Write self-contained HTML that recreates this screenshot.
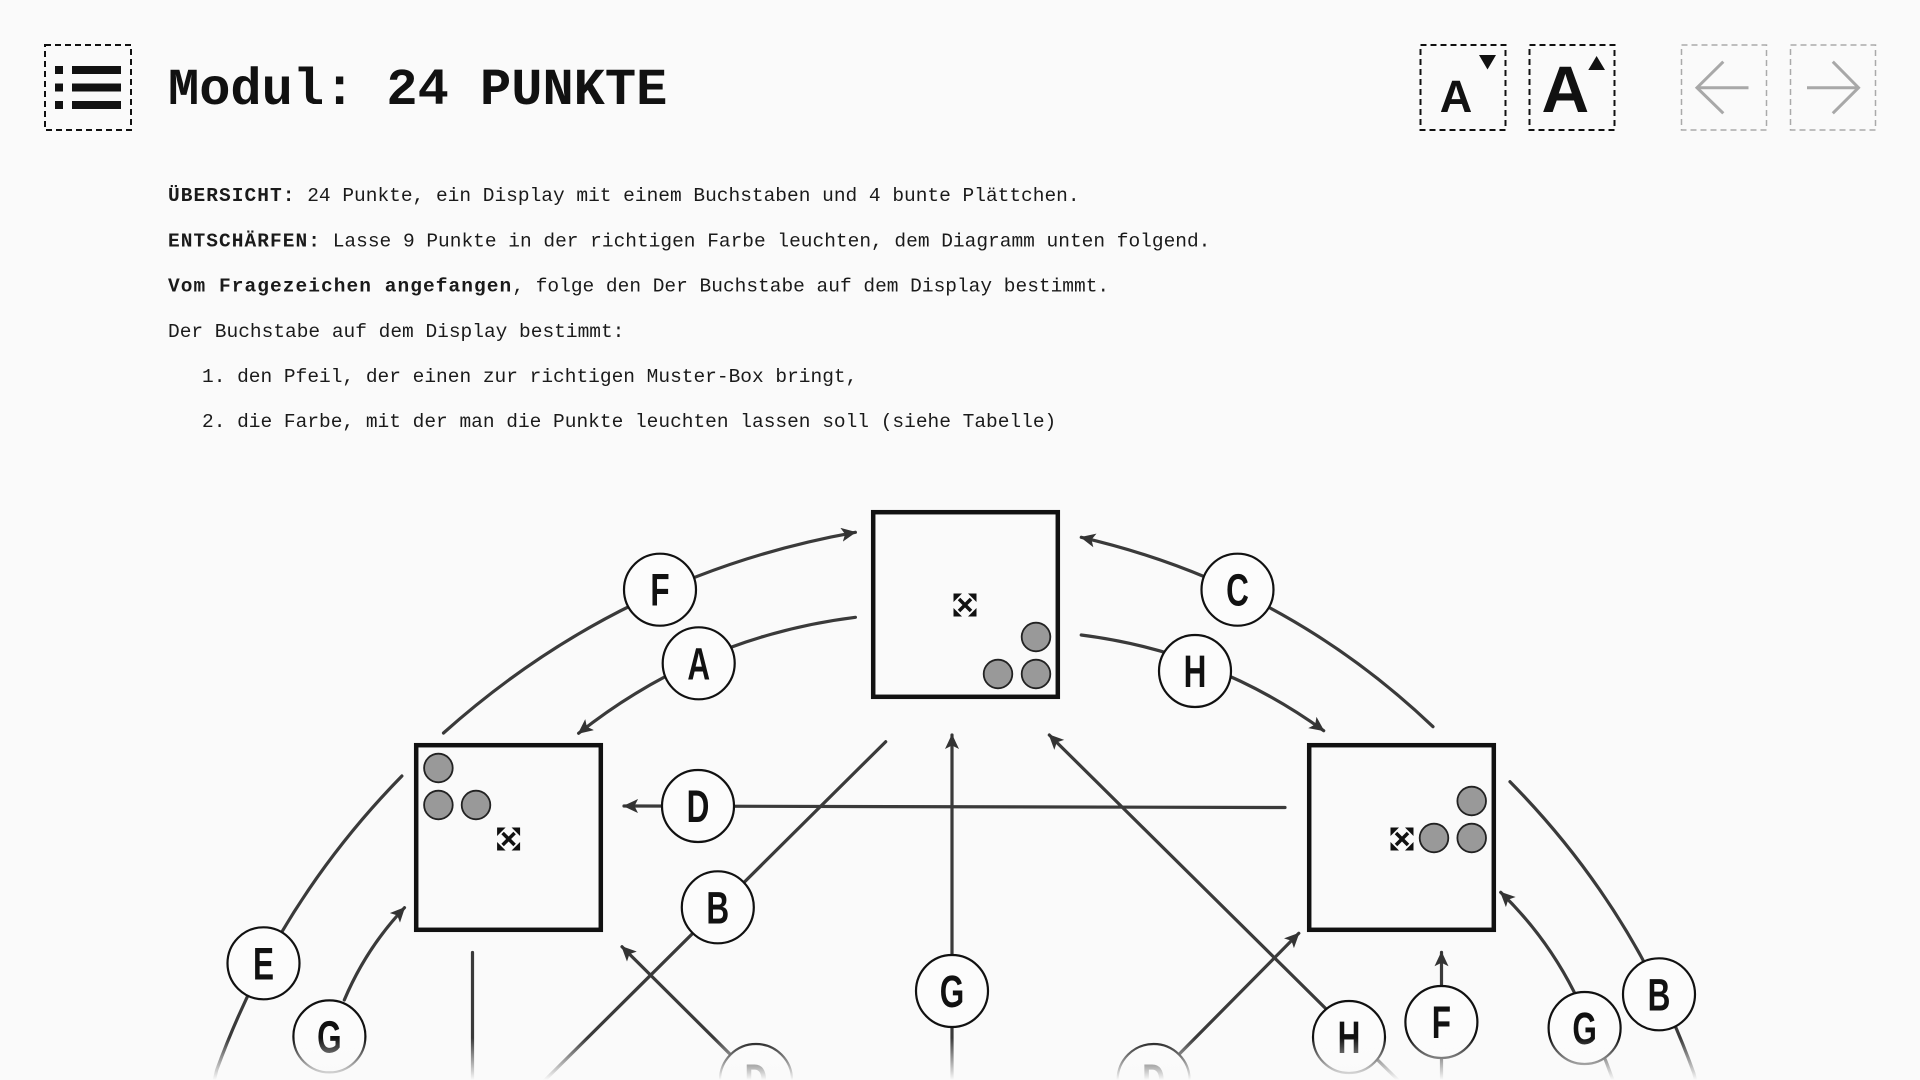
<!DOCTYPE html>
<html>
<head>
<meta charset="utf-8">
<style>
html,body{margin:0;padding:0;background:#fafafa;}
body{width:1920px;height:1080px;overflow:hidden;position:relative;}
svg{position:absolute;left:0;top:0;}
.mono{font-family:"Liberation Mono",monospace;}
.lbl{font-family:"Liberation Sans",sans-serif;font-weight:bold;font-size:45px;fill:#111;}
.b{font-weight:bold;letter-spacing:1.05px;}
</style>
</head>
<body>
<svg width="1920" height="1080" viewBox="0 0 1920 1080" xmlns="http://www.w3.org/2000/svg">
<defs>
  <marker id="ah" markerUnits="userSpaceOnUse" markerWidth="20" markerHeight="20" refX="14" refY="7" orient="auto">
    <path d="M0,0 L15,7 L0,14 L3.5,7 Z" fill="#333"/>
  </marker>
  <linearGradient id="fade" x1="0" y1="0" x2="0" y2="1">
    <stop offset="0" stop-color="#fafafa" stop-opacity="0"/>
    <stop offset="1" stop-color="#fafafa" stop-opacity="1"/>
  </linearGradient>
  <g id="cross">
    <line x1="-6" y1="-6" x2="6" y2="6" stroke="#111" stroke-width="3.5"/>
    <line x1="-6" y1="6" x2="6" y2="-6" stroke="#111" stroke-width="3.5"/>
    <polygon points="-11.5,-11.5 -3,-11.5 -11.5,-3" fill="#111"/>
    <polygon points="11.5,-11.5 3,-11.5 11.5,-3" fill="#111"/>
    <polygon points="-11.5,11.5 -3,11.5 -11.5,3" fill="#111"/>
    <polygon points="11.5,11.5 3,11.5 11.5,3" fill="#111"/>
  </g>
</defs>

<!-- Header: menu button -->
<rect x="45" y="45" width="86" height="85" fill="none" stroke="#111" stroke-width="2" stroke-dasharray="6 4"/>
<rect x="55" y="66" width="8" height="8" fill="#111"/>
<rect x="72" y="66" width="49" height="8" fill="#111"/>
<rect x="55" y="83.5" width="8" height="8" fill="#111"/>
<rect x="72" y="83.5" width="49" height="8" fill="#111"/>
<rect x="55" y="101" width="8" height="8" fill="#111"/>
<rect x="72" y="101" width="49" height="8" fill="#111"/>

<text x="168" y="104" class="mono" font-size="52" font-weight="bold" fill="#111">Modul: 24 PUNKTE</text>

<!-- font size buttons -->
<rect x="1420.5" y="45" width="85" height="85" fill="none" stroke="#111" stroke-width="2" stroke-dasharray="6 4"/>
<text x="1456" y="112" text-anchor="middle" font-family="Liberation Sans, sans-serif" font-weight="bold" font-size="45" fill="#111">A</text>
<polygon points="1479,55 1496,55 1487.5,69.5" fill="#111"/>
<rect x="1529.5" y="45" width="85" height="85" fill="none" stroke="#111" stroke-width="2" stroke-dasharray="6 4"/>
<text x="1565.3" y="112" text-anchor="middle" font-family="Liberation Sans, sans-serif" font-weight="bold" font-size="66" fill="#111">A</text>
<polygon points="1588.3,70 1605,70 1596.6,56" fill="#111"/>

<!-- nav buttons -->
<rect x="1681.5" y="45" width="85" height="85" fill="none" stroke="#aaa" stroke-width="1.5" stroke-dasharray="6 4"/>
<polyline points="1723.3,61.7 1697,87.7 1723.3,113.3" fill="none" stroke="#a8a8a8" stroke-width="3"/>
<line x1="1697" y1="87.7" x2="1748.5" y2="87.7" stroke="#a8a8a8" stroke-width="3"/>
<rect x="1790.5" y="45" width="85" height="85" fill="none" stroke="#aaa" stroke-width="1.5" stroke-dasharray="6 4"/>
<polyline points="1832.8,61.7 1858.5,87.7 1832.8,113.3" fill="none" stroke="#a8a8a8" stroke-width="3"/>
<line x1="1807" y1="87.7" x2="1858.5" y2="87.7" stroke="#a8a8a8" stroke-width="3"/>

<!-- Body text -->
<g class="mono" font-size="19.5" fill="#1a1a1a">
  <text x="168" y="201"><tspan class="b">ÜBERSICHT:</tspan> 24 Punkte, ein Display mit einem Buchstaben und 4 bunte Plättchen.</text>
  <text x="168" y="246.3"><tspan class="b">ENTSCHÄRFEN:</tspan> Lasse 9 Punkte in der richtigen Farbe leuchten, dem Diagramm unten folgend.</text>
  <text x="168" y="291.6"><tspan class="b">Vom Fragezeichen angefangen</tspan>, folge den Der Buchstabe auf dem Display bestimmt.</text>
  <text x="168" y="336.8">Der Buchstabe auf dem Display bestimmt:</text>
  <text x="202" y="382">1. den Pfeil, der einen zur richtigen Muster-Box bringt,</text>
  <text x="202" y="427.2">2. die Farbe, mit der man die Punkte leuchten lassen soll (siehe Tabelle)</text>
</g>

<!-- Connectors -->
<g fill="none" stroke="#3a3a3a" stroke-width="3.2" stroke-linecap="round">
  <path d="M443.5,733 Q621,574.2 855.4,532.3" marker-end="url(#ah)"/>
  <path d="M855.4,617.3 Q700.8,636.6 578.6,733.3" marker-end="url(#ah)"/>
  <path d="M1433,726.7 Q1283,583.9 1081.25,537.3" marker-end="url(#ah)"/>
  <path d="M1081.25,635 Q1214.8,651.9 1323.7,730.7" marker-end="url(#ah)"/>
  <path d="M401.9,776 Q277.5,903 216.7,1070 L212,1090"/>
  <path d="M344.3,1000 Q366,948.4 404.5,907.7" marker-end="url(#ah)"/>
  <path d="M1618,1095 Q1600,1040 1574,991.7 Q1545.7,935.8 1500.7,892.3" marker-end="url(#ah)"/>
  <path d="M1510,781.7 Q1633.9,907.2 1693.8,1073 L1698,1090"/>
  <path d="M1285,807.5 L624,806" marker-end="url(#ah)"/>
  <path d="M885.7,741.7 L535,1090"/>
  <path d="M952,1090 L952,735" marker-end="url(#ah)"/>
  <path d="M1408,1090 L1049.3,735" marker-end="url(#ah)"/>
  <path d="M1153.6,1080 L1298.8,933.3" marker-end="url(#ah)"/>
  <path d="M756,1080 L622,946.7" marker-end="url(#ah)"/>
  <path d="M1441.5,1090 L1441.5,952.3" marker-end="url(#ah)"/>
  <path d="M472.5,952.5 L472.5,1090"/>
</g>

<!-- Boxes -->
<g fill="#fafafa" stroke="#111" stroke-width="4.5">
  <rect x="873.2" y="512.2" width="184.6" height="184.6"/>
  <rect x="416.2" y="745.2" width="184.6" height="184.6"/>
  <rect x="1309.2" y="745.2" width="184.6" height="184.6"/>
</g>

<!-- Dots -->
<g fill="#999" stroke="#222" stroke-width="1.8">
  <circle cx="1036" cy="637" r="14.3"/>
  <circle cx="998" cy="674" r="14.3"/>
  <circle cx="1036" cy="674" r="14.3"/>
  <circle cx="438.4" cy="768" r="14.3"/>
  <circle cx="438.4" cy="805" r="14.3"/>
  <circle cx="476" cy="805" r="14.3"/>
  <circle cx="1471.7" cy="801" r="14.3"/>
  <circle cx="1434" cy="838" r="14.3"/>
  <circle cx="1471.7" cy="838" r="14.3"/>
</g>
<use href="#cross" x="965" y="605"/>
<use href="#cross" x="508.6" y="839"/>
<use href="#cross" x="1402" y="839"/>

<!-- Label circles -->
<g fill="#fcfcfc" stroke="#111" stroke-width="2.2">
  <circle cx="660" cy="589.7" r="36"/>
  <circle cx="698.7" cy="663.3" r="36"/>
  <circle cx="1237.5" cy="589.7" r="36"/>
  <circle cx="1195" cy="671" r="36"/>
  <circle cx="698" cy="806" r="36"/>
  <circle cx="717.8" cy="907.3" r="36"/>
  <circle cx="263.5" cy="963.3" r="36"/>
  <circle cx="329.4" cy="1036.4" r="36"/>
  <circle cx="952" cy="991" r="36"/>
  <circle cx="1349" cy="1037" r="36"/>
  <circle cx="1441.4" cy="1022" r="36"/>
  <circle cx="1584.6" cy="1028" r="36"/>
  <circle cx="1659" cy="994.3" r="36"/>
  <circle cx="756" cy="1080" r="36"/>
  <circle cx="1153.6" cy="1080" r="36"/>
</g>
<g class="lbl" text-anchor="middle">
  <g transform="translate(660,589.7) scale(0.7,1)"><text x="0" y="16">F</text></g>
  <g transform="translate(698.7,663.3) scale(0.7,1)"><text x="0" y="16">A</text></g>
  <g transform="translate(1237.5,589.7) scale(0.7,1)"><text x="0" y="16">C</text></g>
  <g transform="translate(1195,671) scale(0.7,1)"><text x="0" y="16">H</text></g>
  <g transform="translate(698,806) scale(0.7,1)"><text x="0" y="16">D</text></g>
  <g transform="translate(717.8,907.3) scale(0.7,1)"><text x="0" y="16">B</text></g>
  <g transform="translate(263.5,963.3) scale(0.7,1)"><text x="0" y="16">E</text></g>
  <g transform="translate(329.4,1036.4) scale(0.7,1)"><text x="0" y="16">G</text></g>
  <g transform="translate(952,991) scale(0.7,1)"><text x="0" y="16">G</text></g>
  <g transform="translate(1349,1037) scale(0.7,1)"><text x="0" y="16">H</text></g>
  <g transform="translate(1441.4,1022) scale(0.7,1)"><text x="0" y="16">F</text></g>
  <g transform="translate(1584.6,1028) scale(0.7,1)"><text x="0" y="16">G</text></g>
  <g transform="translate(1659,994.3) scale(0.7,1)"><text x="0" y="16">B</text></g>
  <g transform="translate(756,1080) scale(0.7,1)"><text x="0" y="16">D</text></g>
  <g transform="translate(1153.6,1080) scale(0.7,1)"><text x="0" y="16">D</text></g>
</g>

<!-- bottom fade -->
<rect x="0" y="1038" width="1920" height="42" fill="url(#fade)"/>
</svg>
</body>
</html>
